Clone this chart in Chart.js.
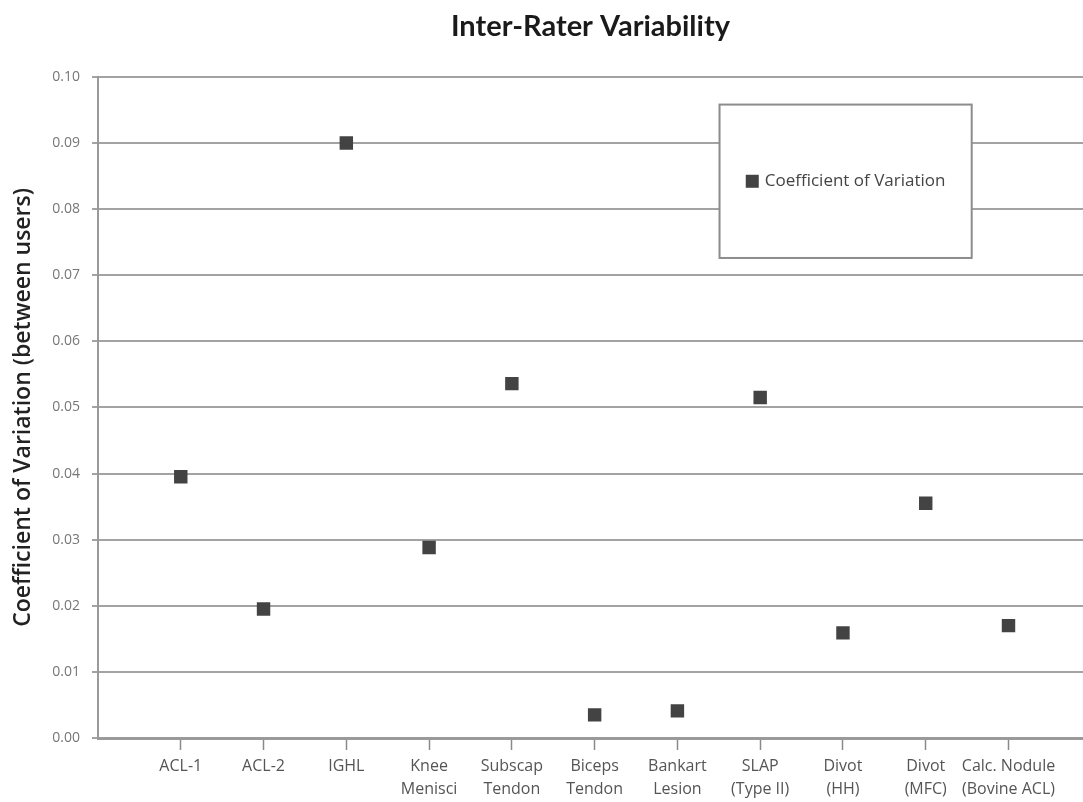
<!DOCTYPE html>
<html>
<head>
<meta charset="utf-8">
<title>Inter-Rater Variability</title>
<script src="https://cdn.jsdelivr.net/npm/chart.js@4"></script>
<style>
  html, body { margin: 0; padding: 0; background: #fff; overflow: hidden; }
  #wrap { width: 1083px; height: 802px; position: relative; }
  #cvChart { display: block; }
</style>
</head>
<body>
<div id="wrap"><canvas id="cvChart"></canvas></div>
<script>
// categories along the x axis (two lines where the original wraps)
const categories = [
    ['ACL-1'], ['ACL-2'], ['IGHL'], ['Knee', 'Menisci'], ['Subscap', 'Tendon'],
    ['Biceps', 'Tendon'], ['Bankart', 'Lesion'], ['SLAP', '(Type II)'],
    ['Divot', '(HH)'], ['Divot', '(MFC)'], ['Calc. Nodule', '(Bovine ACL)']
];
const cvValues = [0.0395, 0.0195, 0.0900, 0.0288, 0.0536, 0.0035, 0.0041, 0.0515, 0.0159, 0.0355, 0.0170];
const yTicks = [0, 0.01, 0.02, 0.03, 0.04, 0.05, 0.06, 0.07, 0.08, 0.09, 0.10];

const MARKER = '#434343';
const GRID = '#a3a3a3';

// legend drawn as a framed box inside the plot, like the original
const boxLegend = {
    id: 'boxLegend',
    afterDraw(chart, args, opts) {
        const { ctx, chartArea: a } = chart;
        const w = a.right - a.left, h = a.bottom - a.top;
        const x0 = a.left + opts.left * w, x1 = a.left + opts.right * w;
        const y0 = a.top + opts.top * h, y1 = a.top + opts.bottom * h;
        ctx.save();
        ctx.fillStyle = '#fff';
        ctx.fillRect(x0, y0, x1 - x0, y1 - y0);
        ctx.strokeStyle = '#8c8c8c';
        ctx.lineWidth = 2;
        ctx.strokeRect(x0, y0, x1 - x0, y1 - y0);
        const label = chart.data.datasets[0].label;
        ctx.font = '17px "Open Sans"';
        const tw = ctx.measureText(label).width;
        const total = 13 + 6 + tw;
        const sx = (x0 + x1) / 2 - total / 2;
        const cy = (y0 + y1) / 2;
        ctx.fillStyle = MARKER;
        ctx.fillRect(sx, cy - 6.5, 13, 13);
        ctx.fillStyle = '#444';
        ctx.textBaseline = 'middle';
        ctx.fillText(label, sx + 19, cy);
        ctx.restore();
    }
};

new Chart(document.getElementById('cvChart'), {
    type: 'scatter',
    data: {
        datasets: [{
            label: 'Coefficient of Variation',
            data: cvValues.map((v, i) => ({ x: i + 1, y: v })),
            pointStyle: 'rect',
            pointRadius: 9.5,
            pointHoverRadius: 9.5,
            pointBackgroundColor: MARKER,
            pointBorderColor: MARKER,
            pointBorderWidth: 0
        }]
    },
    options: {
        responsive: true,
        maintainAspectRatio: false,
        animation: false,
        layout: { padding: 0, autoPadding: false },
        plugins: {
            legend: { display: false },
            tooltip: { enabled: false },
            title: {
                display: true,
                fullSize: false,
                text: 'Inter-Rater Variability',
                color: '#1a1a1a',
                font: { family: 'Lato', size: 29, weight: 'bold' },
                padding: { top: 9, bottom: 33 }
            },
            boxLegend: { left: 0.631, right: 0.887, top: 0.042, bottom: 0.274 }
        },
        scales: {
            x: {
                type: 'linear',
                min: 0,
                max: 11.9,
                afterBuildTicks: scale => {
                    scale.ticks = categories.map((c, i) => ({ value: i + 1 }));
                },
                afterFit: scale => {
                    scale.height = 64;
                    scale.paddingLeft = 0;
                    scale.paddingRight = 0;
                },
                grid: {
                    drawOnChartArea: false,
                    drawTicks: true,
                    tickLength: 12,
                    tickWidth: 1.5,
                    tickColor: '#8a8a8a'
                },
                border: { color: '#9a9a9a', width: 3 },
                ticks: {
                    autoSkip: false,
                    maxRotation: 0,
                    padding: 5,
                    color: '#555',
                    font: { family: 'Open Sans', size: 16, lineHeight: '23px' },
                    callback: v => categories[v - 1] || ''
                }
            },
            y: {
                min: 0,
                max: 0.10,
                afterBuildTicks: scale => {
                    scale.ticks = yTicks.map(v => ({ value: v }));
                },
                afterFit: scale => { scale.width = 98; },
                grid: {
                    color: GRID,
                    lineWidth: 2,
                    tickLength: 6,
                    tickColor: GRID
                },
                border: { color: '#9a9a9a', width: 2 },
                ticks: {
                    padding: 12,
                    color: '#777',
                    font: { family: 'Open Sans', size: 14 },
                    callback: v => v.toFixed(2)
                },
                title: {
                    display: true,
                    text: 'Coefficient of Variation (between users)',
                    color: '#222',
                    font: { family: 'Open Sans', size: 23, weight: '600' },
                    padding: { top: 10, bottom: 0 }
                }
            }
        }
    },
    plugins: [boxLegend]
});
</script>
</body>
</html>
